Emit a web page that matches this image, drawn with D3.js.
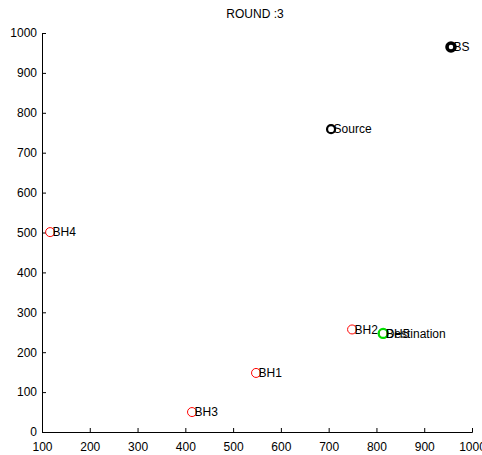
<!DOCTYPE html>
<html>
<head>
<meta charset="utf-8">
<script src="https://cdn.jsdelivr.net/npm/d3@7"></script>
<style>
  html, body { margin: 0; padding: 0; background: #fff; }
  svg text { font-family: "Liberation Sans", Arial, sans-serif; }
</style>
</head>
<body>
<svg id="chart" width="482" height="455"></svg>
<script>
// Network nodes: name, x, y
const holeNames = ["BH1", "BH2", "BH3", "BH4", "BH5"];
const holeX = [548, 749, 414, 117, 815];
const holeY = [148, 257, 50, 501, 247];

const baseStation = { name: "BS", x: 956, y: 965 };
const source = { name: "Source", x: 705, y: 759 };
const destination = { name: "Destination", x: 814, y: 247 };

const xTicks = [100, 200, 300, 400, 500, 600, 700, 800, 900, 1000];
const yTicks = [0, 100, 200, 300, 400, 500, 600, 700, 800, 900, 1000];
const title = "ROUND :3";

const svg = d3.select("#chart");
const margin = { left: 42, right: 10, top: 33, bottom: 23 };
const W = 482, H = 455;

const x = d3.scaleLinear().domain([100, 1000]).range([margin.left, W - margin.right]);
const y = d3.scaleLinear().domain([0, 1000]).range([H - margin.bottom, margin.top]);

// axes with inward ticks
const xAxis = d3.axisBottom(x).tickValues(xTicks).tickSize(-4).tickPadding(10).tickFormat(d3.format("d"));
const yAxis = d3.axisLeft(y).tickValues(yTicks).tickSize(-4).tickPadding(5).tickFormat(d3.format("d"));

const gx = svg.append("g").attr("transform", `translate(0,${y(0)})`).call(xAxis);
const gy = svg.append("g").attr("transform", `translate(${x(100)},0)`).call(yAxis);
[gx, gy].forEach(g => {
  g.selectAll("path").attr("stroke", "#000").attr("stroke-width", 1);
  g.selectAll("line").attr("stroke", "#000");
  g.selectAll("text").attr("fill", "#000").style("font-size", "12px")
    .style("font-family", "'Liberation Sans', Arial, sans-serif");
});

svg.append("text")
  .attr("x", 255).attr("y", 18)
  .attr("text-anchor", "middle")
  .style("font-size", "12px")
  .text(title);

// blackholes
const holes = holeNames.map((n, i) => ({ name: n, x: holeX[i], y: holeY[i] }));
const gH = svg.append("g");
gH.selectAll("circle").data(holes).join("circle")
  .attr("cx", d => x(d.x)).attr("cy", d => y(d.y)).attr("r", 4.5)
  .attr("fill", "none").attr("stroke", "#ff0000").attr("stroke-width", 1);

// destination
svg.append("circle")
  .attr("cx", x(destination.x)).attr("cy", y(destination.y)).attr("r", 4.5)
  .attr("fill", "none").attr("stroke", "#00e000").attr("stroke-width", 2.2);

// source
svg.append("circle")
  .attr("cx", x(source.x)).attr("cy", y(source.y)).attr("r", 4)
  .attr("fill", "none").attr("stroke", "#000").attr("stroke-width", 2.2);

// base station
svg.append("circle")
  .attr("cx", x(baseStation.x)).attr("cy", y(baseStation.y)).attr("r", 4)
  .attr("fill", "none").attr("stroke", "#000").attr("stroke-width", 3.5);

// labels
const labels = holes.concat([destination, source, baseStation]);
svg.append("g").selectAll("text").data(labels).join("text")
  .attr("x", d => x(d.x) + 2.5).attr("y", d => y(d.y))
  .attr("dy", "0.35em")
  .style("font-size", "12px")
  .attr("fill", "#000")
  .text(d => d.name);
</script>
</body>
</html>
